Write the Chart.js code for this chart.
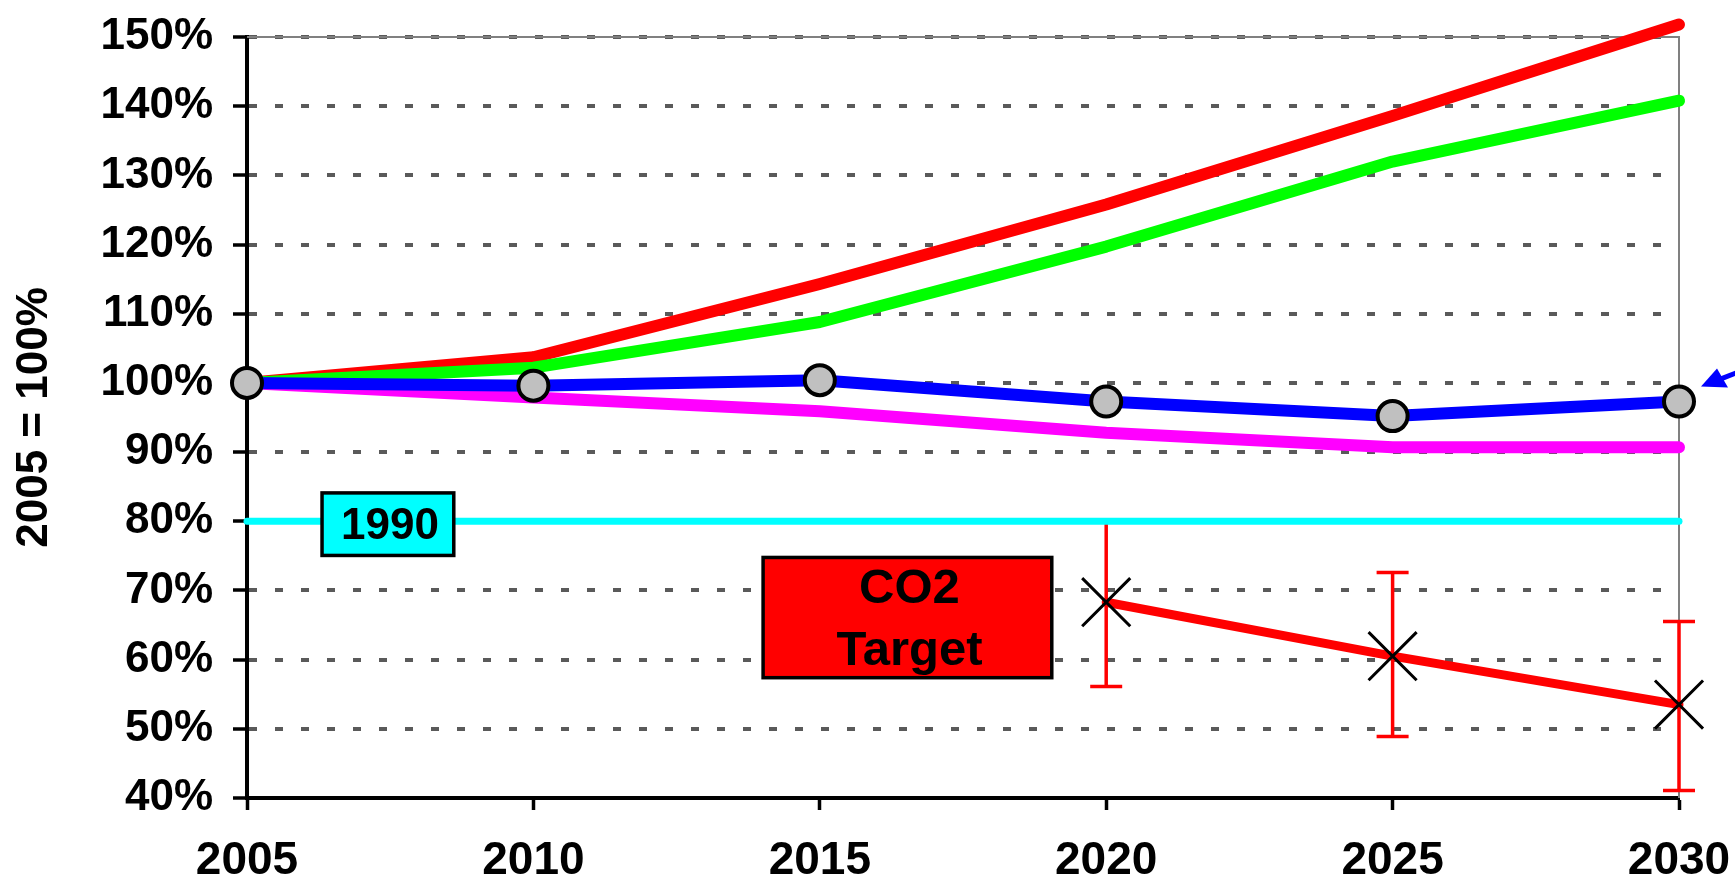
<!DOCTYPE html>
<html>
<head>
<meta charset="utf-8">
<script src="https://cdn.jsdelivr.net/npm/chart.js@4.4.0/dist/chart.umd.min.js"></script>
<style>
  html, body { margin: 0; padding: 0; background: #fff; }
  #grafica { display: block; }
</style>
</head>
<body>
<canvas id="grafica" width="1735" height="875"></canvas>
<script>
// datos (2005 = 100%)
const years = [2005, 2010, 2015, 2020, 2025, 2030];
const redSeries = [100, 103.7, 114.3, 125.8, 138.6, 151.8];
const greenSeries = [100, 102.2, 108.8, 119.7, 132.0, 140.8];
const blueSeries = [100, 99.6, 100.4, 97.3, 95.2, 97.3];
const magentaSeries = [100, 97.9, 95.9, 92.8, 90.7, 90.7];
const level1990 = [80, 80, 80, 80, 80, 80];

// objetivo CO2 con barras de error
const targetYears = [2020, 2025, 2030];
const targetSeries = [68.3, 60.5, 53.5];
const targetLow = [56.1, 48.9, 41.1];
const targetHigh = [80, 72.6, 65.5];

const yTicks = [40, 50, 60, 70, 80, 90, 100, 110, 120, 130, 140, 150];

const FAMILY = "'Liberation Sans', Arial, Helvetica, sans-serif";
Chart.defaults.font.family = FAMILY;

// cajas de texto (en coordenadas de datos)
const cajas = [
  { lines: ['1990'], x0: 2006.31, x1: 2008.61, y0: 84.1, y1: 75.06, fill: '#00ffff', size: 44 },
  { lines: ['CO2', 'Target'], x0: 2014.01, x1: 2019.05, y0: 74.77, y1: 57.39, fill: '#ff0000', size: 49 }
];

const pts = (xs, ys) => xs.map((x, i) => ({ x: x, y: ys[i] }));

const extras = {
  id: 'extras',
  beforeDatasetsDraw(chart) {
    const { ctx, chartArea: a, scales: { x, y } } = chart;
    ctx.save();
    // marco superior y derecho
    ctx.strokeStyle = '#808080';
    ctx.lineWidth = 2;
    ctx.beginPath();
    ctx.moveTo(a.left, a.top);
    ctx.lineTo(a.right, a.top);
    ctx.lineTo(a.right, a.bottom);
    ctx.stroke();

    // barras de error
    ctx.strokeStyle = '#ff0000';
    ctx.lineWidth = 3.5;
    targetYears.forEach((yr, i) => {
      const px = x.getPixelForValue(yr);
      const lo = y.getPixelForValue(targetLow[i]);
      const hi = y.getPixelForValue(targetHigh[i]);
      ctx.beginPath();
      ctx.moveTo(px, hi); ctx.lineTo(px, lo);
      ctx.moveTo(px - 16, hi); ctx.lineTo(px + 16, hi);
      ctx.moveTo(px - 16, lo); ctx.lineTo(px + 16, lo);
      ctx.stroke();
    });
    ctx.restore();
  },
  afterDatasetsDraw(chart) {
    const { ctx, scales: { x, y } } = chart;
    ctx.save();
    cajas.forEach(c => {
      const l = x.getPixelForValue(c.x0), r = x.getPixelForValue(c.x1);
      const t = y.getPixelForValue(c.y0), b = y.getPixelForValue(c.y1);
      ctx.fillStyle = c.fill;
      ctx.fillRect(l, t, r - l, b - t);
      ctx.strokeStyle = '#000';
      ctx.lineWidth = 3.5;
      ctx.strokeRect(l, t, r - l, b - t);
      ctx.fillStyle = '#000';
      ctx.font = 'bold ' + c.size + 'px ' + FAMILY;
      ctx.textAlign = 'center';
      ctx.textBaseline = 'middle';
      const cx = (l + r) / 2 + 2, cy = (t + b) / 2 + 3;
      const gap = 62;
      c.lines.forEach((txt, i) => {
        ctx.fillText(txt, cx, cy + (i - (c.lines.length - 1) / 2) * gap);
      });
    });

    // flecha azul hacia el ultimo punto
    const px = x.getPixelForValue(years[5]);
    const py = y.getPixelForValue(blueSeries[5]);
    const tx = px + 22, ty = py - 15;
    ctx.fillStyle = '#0000ff';
    ctx.strokeStyle = '#0000ff';
    ctx.lineWidth = 5;
    ctx.beginPath();
    ctx.moveTo(tx + 18, ty - 7);
    ctx.lineTo(tx + 70, ty - 27);
    ctx.stroke();
    ctx.beginPath();
    ctx.moveTo(tx, ty);
    ctx.lineTo(tx + 16, ty - 18);
    ctx.lineTo(tx + 27, ty + 1);
    ctx.closePath();
    ctx.fill();
    ctx.restore();
  }
};

new Chart(document.getElementById('grafica'), {
  type: 'line',
  data: {
    datasets: [
      {
        data: pts(targetYears, targetSeries),
        borderColor: '#ff0000', borderWidth: 9,
        pointStyle: 'crossRot', pointRadius: 34, pointBorderColor: '#000', pointBorderWidth: 3,
        clip: false
      },
      {
        data: pts(years, blueSeries),
        borderColor: '#0000ff', borderWidth: 12,
        pointRadius: 15, pointBackgroundColor: '#c0c0c0', pointBorderColor: '#000', pointBorderWidth: 4,
        clip: false
      },
      { data: pts(years, greenSeries), borderColor: '#00ff00', borderWidth: 12, pointRadius: 0, clip: false },
      { data: pts(years, redSeries), borderColor: '#ff0000', borderWidth: 12, pointRadius: 0, clip: false },
      { data: pts(years, magentaSeries), borderColor: '#ff00ff', borderWidth: 12, pointRadius: 0, clip: false },
      { data: pts(years, level1990), borderColor: '#00ffff', borderWidth: 7, pointRadius: 0, clip: false }
    ]
  },
  options: {
    responsive: false,
    animation: false,
    events: [],
    layout: { padding: { left: 0, top: 32, right: 56, bottom: 0 } },
    plugins: { legend: { display: false }, tooltip: { enabled: false } },
    elements: { line: { tension: 0, borderCapStyle: 'round', borderJoinStyle: 'round' } },
    scales: {
      x: {
        type: 'linear', min: 2005, max: 2030,
        afterBuildTicks: s => { s.ticks = years.map(v => ({ value: v })); },
        afterFit: s => { s.height = 77; s.paddingLeft = 0; s.paddingRight = 0; },
        ticks: {
          callback: v => String(v),
          font: { size: 46, weight: 'bold' }, color: '#000',
          padding: 24, maxRotation: 0, autoSkip: false
        },
        grid: { drawOnChartArea: false, tickLength: 12, tickColor: '#000', tickWidth: 3.5 },
        border: { color: '#000', width: 4 }
      },
      y: {
        min: 40, max: 150,
        afterBuildTicks: s => { s.ticks = yTicks.map(v => ({ value: v })); },
        afterFit: s => { s.width = 247; s.paddingTop = 0; s.paddingBottom = 0; },
        ticks: {
          callback: v => v + '%',
          font: { size: 44, weight: 'bold' }, color: '#000', padding: 20
        },
        grid: { color: '#5a5a5a', lineWidth: 4, tickLength: 14, tickColor: '#000', tickWidth: 3.5 },
        border: { color: '#000', width: 4, dash: [8, 18] },
        title: {
          display: true, text: '2005 = 100%', color: '#000',
          font: { size: 44, weight: 'bold' }, padding: { top: 8, bottom: 0 }
        }
      }
    }
  },
  plugins: [extras]
});
</script>
</body>
</html>
